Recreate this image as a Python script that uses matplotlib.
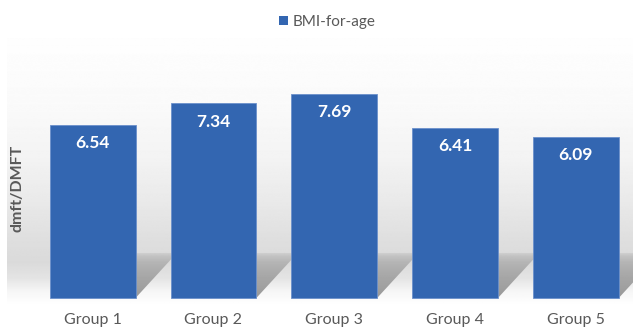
import numpy as np
import matplotlib.pyplot as plt
from matplotlib.patches import Polygon, Patch

groups = ["Group 1", "Group 2", "Group 3", "Group 4", "Group 5"]
bmi_for_age = [6.54, 7.34, 7.69, 6.41, 6.09]
series_name = "BMI-for-age"

W, H = 633, 329
fig = plt.figure(figsize=(W / 100, H / 100), dpi=100)
fig.patch.set_facecolor("white")

# plot area in pixels (left, top, right, bottom)
px_l, px_t, px_r, px_b = 7, 38, 633, 305
ax = fig.add_axes([px_l / W, 1 - px_b / H, (px_r - px_l) / W, (px_b - px_t) / H])

bar_w = 0.71
x = np.arange(len(groups))
ax.set_xlim(-0.709, 4.473)
ax.set_ylim(-0.264, 9.81)

# background gradient (grey band toward the floor)
stops_y = np.array([0.0, 0.25, 0.45, 0.62, 0.75, 0.84, 0.9, 0.95, 1.0])
stops_v = np.array([254, 250, 243, 233, 223, 218, 228, 246, 255]) / 255
rows = np.linspace(0, 1, 300)
vals = np.interp(rows, stops_y, stops_v)
bg = np.repeat(vals[:, None], 2, axis=1)
ax.imshow(bg, cmap="gray", vmin=0, vmax=1, aspect="auto",
          extent=(0, 1, 0, 1), transform=ax.transAxes, zorder=0,
          interpolation="bilinear")

# soft floor shadows cast to the right of each bar
sh_top = 1.7
slope = 4.97
sh_len = 0.5
grad = np.linspace(0, 1, 100)[:, None]
sh_img = np.zeros((100, 2, 4))
sh_img[..., :3] = 0.5
sh_img[..., 3] = np.repeat(0.8 * grad ** 0.45, 2, axis=1)
for xi in x:
    xr = xi + bar_w / 2
    poly = Polygon([(xr, 0), (xr + sh_len, slope * sh_len), (xr + sh_len, sh_top),
                    (xr, sh_top)], closed=True, transform=ax.transData,
                   facecolor="none", edgecolor="none")
    ax.add_patch(poly)
    im = ax.imshow(sh_img, aspect="auto", extent=(xr, xr + sh_len, 0, sh_top),
                   zorder=1, interpolation="bilinear", origin="upper")
    im.set_clip_path(poly)

ax.set_xlim(-0.709, 4.473)
ax.set_ylim(-0.264, 9.81)

bars = ax.bar(x, bmi_for_age, width=bar_w, color="#3366b1",
              edgecolor="#6b90cb", linewidth=0.6, zorder=3)

for b, v in zip(bars, bmi_for_age):
    ax.annotate(f"{v:.2f}", (b.get_x() + b.get_width() / 2, v),
                xytext=(0, -13), textcoords="offset points",
                ha="center", va="center", color="white",
                fontsize=12.5, fontweight="bold", family="Lato", zorder=4)

ax.set_xticks(x)
ax.set_xticklabels(groups, fontsize=11.5, color="#595959", family="Lato")
ax.tick_params(axis="x", length=0, pad=6)
ax.set_yticks([])
for s in ax.spines.values():
    s.set_visible(False)

fig.text(18 / W, 1 - 188 / H, "dmft/DMFT", rotation=90, ha="center",
         va="center", fontsize=11.5, fontweight="bold", color="#595959",
         family="Lato")

fig.legend(handles=[Patch(facecolor="#3366b1", edgecolor="none", label=series_name)],
           loc="center", bbox_to_anchor=(327 / W, 1 - 22 / H), frameon=False,
           handlelength=0.6, handleheight=0.6, handletextpad=0.3,
           prop={"family": "Lato", "size": 11}, labelcolor="#595959")

fig.savefig("out.png", dpi=100)
